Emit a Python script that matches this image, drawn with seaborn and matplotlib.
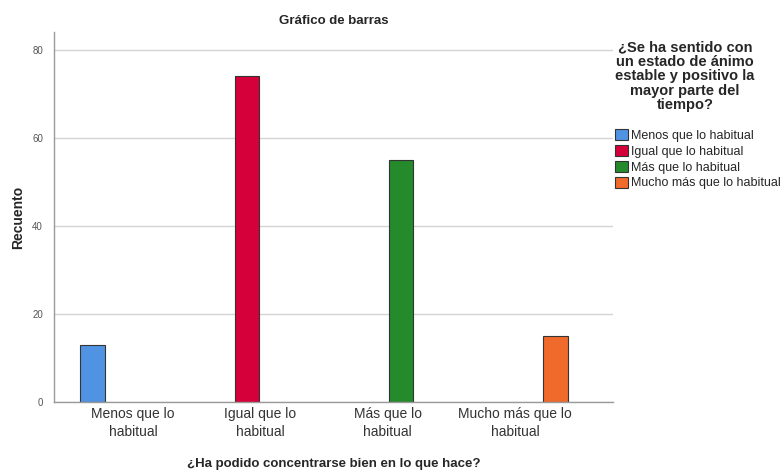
import matplotlib
matplotlib.use("Agg")
import matplotlib.pyplot as plt
import seaborn as sns
import pandas as pd

categories = ["Menos que lo habitual", "Igual que lo habitual",
              "Más que lo habitual", "Mucho más que lo habitual"]
tick_labels = ["Menos que lo\nhabitual", "Igual que lo\nhabitual",
               "Más que lo\nhabitual", "Mucho más que lo\nhabitual"]
counts = [13, 74, 55, 15]
colors = ["#5093e2", "#d5003a", "#258a2b", "#ef6a2b"]

df = pd.DataFrame({"cat": categories, "n": counts})

sns.set_style("white")
plt.rcParams["font.family"] = ["Liberation Sans", "DejaVu Sans"]

fig = plt.figure(figsize=(7.84, 4.71), dpi=100)
ax = fig.add_axes([0.069, 0.146, 0.713, 0.786])

sns.barplot(data=df, x="cat", y="n", hue="cat", order=categories,
            hue_order=categories, palette=colors, saturation=1, dodge=True,
            width=0.85, gap=0.1, edgecolor="#333333", linewidth=0.8,
            legend=True, ax=ax)

ax.set_ylim(0, 84)
ax.set_xlim(-0.62, 3.77)
ax.set_yticks([0, 20, 40, 60, 80])
ax.yaxis.grid(True, color="#d4d4d4", linewidth=1)
ax.set_axisbelow(True)
for s in ["top", "right"]:
    ax.spines[s].set_visible(False)
for s in ["left", "bottom"]:
    ax.spines[s].set_color("#9a9a9a")
    ax.spines[s].set_linewidth(1)
ax.tick_params(axis="both", length=0)
ax.tick_params(axis="y", labelsize=7, labelcolor="#555555", pad=8)
ax.set_xticks(range(len(categories)))
ax.set_xticklabels(tick_labels, fontsize=10, color="#333333", linespacing=1.35)

ax.set_ylabel("Recuento", fontsize=10, fontweight="bold", labelpad=5)
ax.set_xlabel("¿Ha podido concentrarse bien en lo que hace?", fontsize=9.5,
              fontweight="bold", labelpad=14)
ax.set_title("Gráfico de barras", fontsize=9.5, fontweight="bold", pad=6)

leg = ax.legend(title="¿Se ha sentido con\nun estado de ánimo\nestable y positivo la\nmayor parte del\ntiempo?\n",
                loc="upper left", bbox_to_anchor=(0.995, 0.99), frameon=False,
                fontsize=9, title_fontsize=10.5, handlelength=1.0,
                handleheight=1.0, handletextpad=0.25, labelspacing=0.23,
                borderaxespad=0.0)
leg.get_title().set_fontweight("bold")
leg.get_title().set_linespacing(1.03)
leg._legend_box.align = "left"
leg.get_title().set_ha("center")
for h in leg.legend_handles:
    h.set_edgecolor("#333333")
    h.set_linewidth(0.8)

fig.savefig("out.png", dpi=100)
